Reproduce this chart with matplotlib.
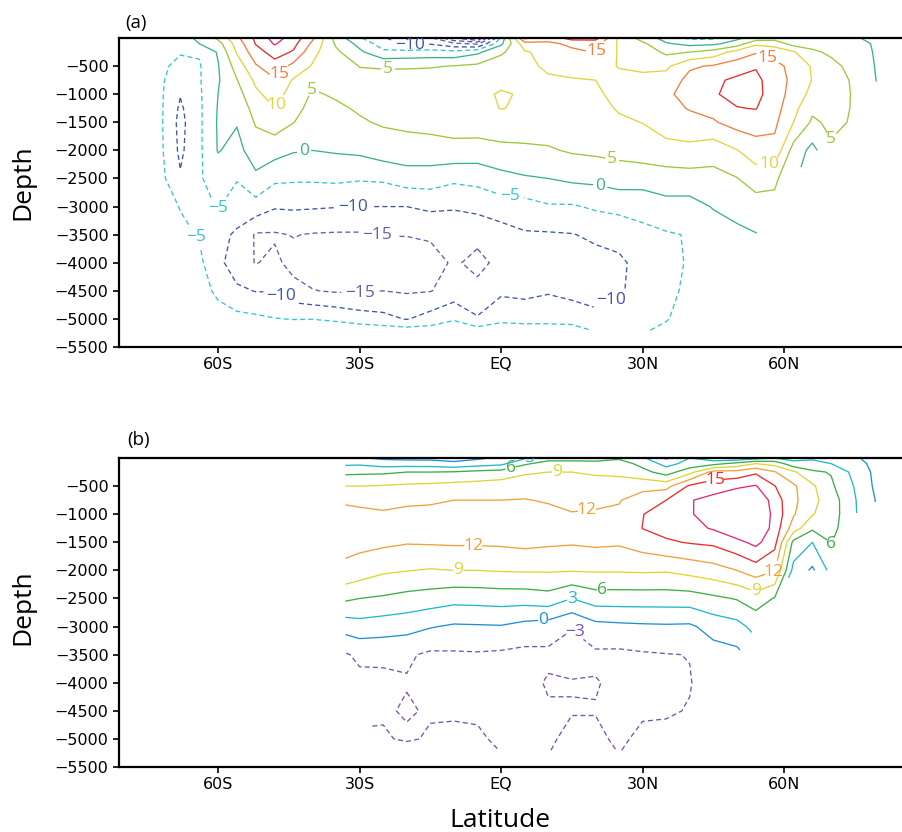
import numpy as np
import matplotlib
matplotlib.use("Agg")
import matplotlib.pyplot as plt

nan = np.nan

# ---------------- data ----------------
depths = [0, 100, 250, 500, 750, 1000, 1250, 1500, 2000, 2500, 3000, 3500, 4000, 4500, 5000, 5200]

# (a) global overturning streamfunction (Sv); one profile (top -> bottom) per latitude
lat_global = [-78, -72, -68, -64, -60, -56, -52, -48, -44, -40, -35, -30, -25, -20, -15, -10, -5,
              0, 5, 10, 15, 20, 25, 30, 35, 40, 45, 50, 54, 58, 62, 66, 70, 75, 80]
psi_global_cols = [
    [-1, -1.5, -2, -2.5, -3, -3, -3, -3, -3, -2.5, -2, -1.5, -1, -0.5, nan, nan],
    [-1.5, -2, -2.5, -4, -4.4, -4.5, -4.5, -4.5, -4.4, -3.8, -3, -2.5, -2, -1.5, nan, nan],
    [-2, -3, -4.6, -6.5, -8, -9.7, -10.8, -11.5, -11, -9.5, -5.2, -4, -3, -1, nan, nan],
    [1, 0, -4.5, -5.5, -5.5, -5.8, -6, -6, -6, -5.5, -6, -5.3, -4, -3, -2, nan],
    [6, 3, 0.5, -0.3, -0.5, 0, 0.3, 0.5, 0.3, -3, -4.8, -8, -8.5, -6, -3, -1],
    [14, 12, 10.5, 7, 4.8, 3, 1.5, 0.3, -1.5, -4.8, -6.5, -11, -13, -9, -3.5, -1],
    [21, 20.3, 18, 14.5, 11, 9, 7, 5.5, 2.5, -1, -7, -15.5, -15.2, -10.2, -4, -2],
    [27, 25.5, 22, 18, 14.5, 12, 10, 7.5, 2, -4, -9.5, -15.5, -14, -10.2, -4.8, -1],
    [23, 21.5, 19.5, 13.5, 9.5, 8, 6.5, 5.1, 0.4, -4.3, -9.3, -14.8, -16.5, -13.5, -5.2, -1.5],
    [16, 14, 11.5, 9.6, 6, 4.5, 3.6, 2.8, 0, -4.3, -9.5, -15.3, -17.5, -14.8, -5.1, -1.5],
    [3, 4.3, 6, 7, 7, 5.5, 4.3, 3.5, 0.5, -4, -9.8, -15.5, -17.5, -15.5, -6, -1.5],
    [-4.5, -1.5, 1, 4.9, 6, 6.3, 5.5, 4.5, 1, -4.5, -10, -15.5, -18, -15.6, -7.5, -2],
    [-9.5, -7.5, -4, 4.6, 6.5, 7, 6.5, 5.5, 2.6, -4.2, -10, -14.8, -18, -15, -8.5, -2.5],
    [-13, -11, -3.5, 4.5, 7, 7.5, 7, 6, 3, -2.5, -10, -14.8, -18, -15.5, -10.3, -3],
    [-14, -10.5, -3, 4.6, 7.5, 8, 7.5, 6.5, 3, -2.5, -9, -14.5, -16.5, -15.2, -8, -3],
    [-25, -14, -3.5, 5.2, 8, 8.5, 8, 7, 3.5, -4, -9.5, -13.5, -14.5, -13, -5.5, -2],
    [-31, -16, -1, 6, 8.5, 9.5, 9, 7.5, 3, -3.5, -8.5, -14, -16, -14, -9.5, -3],
    [-4, -1, 4, 8.5, 9.5, 10.2, 10.1, 8.5, 3.5, -1.5, -7.5, -12, -14, -11, -6, -3],
    [21, 13, 9.5, 9.3, 9.5, 9.8, 9.6, 8, 4, -0.5, -7, -10.5, -12.5, -11.5, -6.5, -3],
    [17, 14, 11.5, 10.5, 9.6, 9.3, 9, 7.5, 4.5, 0, -5.5, -10.5, -12, -10.5, -6.5, -3],
    [22, 16, 14, 11, 9.8, 9.3, 8.8, 8, 5.5, 1, -5.5, -10.2, -12, -11.5, -7, -3],
    [22, 16.5, 15.2, 11.5, 10, 9.3, 8.6, 7.8, 6, 1.3, -4.3, -9.2, -11.5, -11.5, -9, -5.5],
    [9, 9.3, 9.5, 9.8, 11, 11.2, 10.4, 9.3, 6.5, 2.3, -3.5, -8.5, -10.8, -10.5, -8, -5.5],
    [3, 6, 8, 9.6, 10.5, 11, 10.8, 10.1, 7.5, 2, -3, -6.5, -8.5, -8.5, -6.5, -5.5],
    [-2, 0.5, 4, 9, 12, 14, 13.5, 12, 8.5, 2.5, -1.5, -5.5, -6.5, -6.2, -5.3, -4],
    [-6, -1.5, 5, 14.3, 16.5, 17, 15.3, 13.5, 8.5, 3, -1.8, -4.7, -4.5, -4, -3, -2],
    [-6, -1, 7, 15.5, 19, 19.5, 16.5, 14.5, 7, 3.5, 0.3, -2.5, -3, -2.5, -2, -1.5],
    [-1, 2, 12, 17.5, 21, 21.5, 19.8, 17, 9.8, 4.8, 1.5, -1, -2, -1.5, nan, nan],
    [2, 9, 14.5, 19.5, 21.5, 21.5, 20.2, 17.5, 12.5, 7.5, 2.5, -0.2, nan, nan, nan, nan],
    [3, 8, 13, 16.5, 17, 17.5, 17, 16, 13.5, 6, 3.5, nan, nan, nan, nan, nan],
    [1, 3, 10.5, 13.5, 14, 13, 11.5, 10, 3, 1, nan, nan, nan, nan, nan, nan],
    [3, 4, 5.5, 9.5, 9.8, 8.5, 6, 4.2, -1.5, nan, nan, nan, nan, nan, nan, nan],
    [2, 3, 4.5, 5.8, 6.5, 6.8, 6.5, 6, 4.3, nan, nan, nan, nan, nan, nan, nan],
    [0.5, 2, 3, 4, 4.5, 4.6, 4.6, 4.5, 3.5, nan, nan, nan, nan, nan, nan, nan],
    [-1.5, -1, -1, -0.8, -0.5, nan, nan, nan, nan, nan, nan, nan, nan, nan, nan, nan],
]
levels_global = [-30, -25, -20, -15, -10, -5, 0, 5, 10, 15, 20, 25]
colors_global = ["#5b3d96", "#5f47a0", "#5a52a6", "#6b5ba8", "#3f56a6", "#35c4cf",
                 "#3bb38a", "#9cc83c", "#e2d43b", "#f47e3b", "#e82b2b", "#e0237c"]
# inline contour labels: (latitude, depth, level)
labels_global = [(-47.3, -620, 15), (-47.7, -1190, 10), (-39, -690, 5), (-42, -1870, 0),
                 (-24, -570, 5), (-19.3, -160, -10), (21.4, -270, 15), (57, -250, 15),
                 (23.7, -2080, 5), (21, -2650, 0), (57, -2380, 10), (72, -1950, 5),
                 (1.9, -2790, -5), (-62.3, -3420, -5), (-59.1, -3110, -5), (-31.4, -3000, -10),
                 (-26.3, -3540, -15), (-46.2, -4540, -10), (-29.9, -4430, -15), (24.6, -4890, -10)]

# (b) Atlantic overturning streamfunction (Sv)
lat_atl = [-33, -30, -25, -20, -15, -10, -5, 0, 5, 10, 15, 20, 25, 30, 35, 40, 45, 50, 54, 58,
           62, 66, 70, 75, 80]
psi_atl_cols = [
    [1.5, 2.4, 5.3, 9, 11.6, 12.8, 13, 12.8, 11.4, 6.5, 1.3, -3.3, -4, -3.5, nan, nan],
    [0.2, 2.5, 5.4, 9, 11.4, 12.6, 13, 12.8, 10.7, 6, 1.8, -2.4, -3.8, -3.6, nan, nan],
    [-0.5, 1.5, 5.5, 9.2, 11.2, 12.3, 12.8, 12.6, 9.5, 5.6, 1.4, -2.3, -3.8, -3.5, -2.5, nan],
    [-0.8, 1.5, 6, 9.5, 11.6, 12.5, 13, 12.2, 9.1, 5, 1.1, -2.6, -3.2, -2.6, -3.6, -1],
    [-0.8, 1.4, 6, 9.7, 11.7, 12.6, 13, 12.3, 8.8, 4.6, 0.2, -3.5, -3.8, -3.4, -2.5, -1],
    [-1, 0.6, 6.2, 10, 12, 12.8, 13.1, 12.4, 9, 4, -0.4, -3.4, -3.8, -3.4, -2.3, -1],
    [-0.5, 1.5, 6.8, 10.2, 12, 13, 13.3, 12.4, 9, 4.1, -0.3, -3.3, -3.6, -3.4, -2.6, -1],
    [0.5, 2.2, 7.2, 10.5, 12, 13, 13.3, 12.5, 9.2, 4.3, -0.2, -3.5, -3.8, -3.8, -3.5, -3.2],
    [2.5, 5.6, 8.4, 11.5, 12.05, 13, 13.2, 12.8, 9.3, 4.3, -1, -3.8, -4, -3.8, -3.4, -3.2],
    [5, 7, 9, 11, 11.9, 12.3, 12.8, 12.5, 9.3, 4.8, -1.5, -3.6, -2.7, -3.3, -3.3, -3.2],
    [5, 7, 9, 10.7, 11.5, 12.1, 12.6, 12.3, 9.2, 3, -2.9, -3.7, -2.9, -3.1, -2.5, -1.5],
    [5, 6.8, 8.5, 10.6, 11.6, 12.2, 12.5, 12.6, 9.3, 4.5, -1, -3.5, -2.85, -3.1, -2.5, -1.5],
    [5.5, 7.5, 8.3, 10.5, 11.8, 12.5, 12.6, 12.4, 9.3, 4.5, -0.7, -3.6, -3.5, -3.6, -3.4, -3.2],
    [3.5, 5, 7, 11, 13.5, 14.9, 15.05, 13.5, 9.4, 4.5, -0.5, -3.3, -3.5, -3.3, -2.5, -1.5],
    [-0.5, 2, 4.6, 11, 15, 16.5, 16, 14.6, 9.3, 4.5, -0.4, -3.1, -3.3, -3.2, -2.5, -1],
    [3, 4, 8, 15.5, 17.8, 17.7, 17, 15.2, 10, 4.6, -0.5, -2.95, -3.1, -2.9, -2, -1],
    [1, 5, 13, 16.5, 19, 19.5, 18.3, 15.6, 10.8, 5.4, 1.2, -1.3, -2, -2, -1.2, -0.8],
    [0.5, 7, 13, 17.5, 20.5, 21, 20.3, 17.2, 12, 6.2, 2, -0.8, -1.5, -1, nan, nan],
    [2, 9, 14.5, 18.2, 21, 21.5, 21, 18.8, 13.5, 7.5, 4, nan, nan, nan, nan, nan],
    [3, 8, 12.2, 15.1, 16.5, 17, 16.8, 16, 12.2, 5.8, nan, nan, nan, nan, nan, nan],
    [2, 4, 9.5, 12.5, 12.7, 12.3, 10.5, 5.2, 2, nan, nan, nan, nan, nan, nan, nan],
    [2.5, 4, 6.5, 9.5, 9.8, 9.2, 6.5, 3, -0.5, nan, nan, nan, nan, nan, nan, nan],
    [1.5, 3, 5.8, 6.5, 7.5, 7.5, 7, 6.1, 4, nan, nan, nan, nan, nan, nan, nan],
    [0.3, 1, 2, 2.8, 3.2, 3.3, 3.4, 3.5, 3.3, nan, nan, nan, nan, nan, nan, nan],
    [-1, -1, -1, -1, -0.5, nan, nan, nan, nan, nan, nan, nan, nan, nan, nan, nan],
]
levels_atl = [-3, 0, 3, 6, 9, 12, 15, 18]
colors_atl = ["#7b52ae", "#1f8fd6", "#22b8c9", "#3bae49", "#dcd537", "#eea23a", "#ee2b2b", "#e3277a"]
labels_atl = [(2.0, -170, 6), (9.0, -20, 3), (11.9, -270, 9), (18.2, -960, 12), (-5.9, -1510, 12),
              (-9.1, -1940, 9), (15.3, -2370, 3), (21.4, -2390, 6), (8.9, -2850, 0),
              (16.1, -3010, -3), (45.4, -480, 15), (58, -2100, 12), (54, -2450, 9),
              (71.9, -1760, 6)]

xtick_pos = [-60, -30, 0, 30, 60]
xtick_labels = ["60S", "30S", "EQ", "30N", "60N"]
ytick_pos = list(range(-5500, 0, 500))

# ---------------- drawing ----------------
plt.rcParams["lines.dashed_pattern"] = [3.8, 2.4]

fig = plt.figure(figsize=(9.02, 8.32), dpi=100)
axa = fig.add_axes([0.1319, 0.5829, 0.8681, 0.3714])
axb = fig.add_axes([0.1319, 0.0781, 0.8681, 0.3714])


def fmt(v):
    return f"{int(round(v))}".replace("-", "\u2212")


def draw(ax, lats, cols, levels, colors, labels):
    z = np.ma.masked_invalid(np.array(cols, dtype=float).T)
    x, y = np.meshgrid(np.array(lats, float), -np.array(depths, float))
    for lv, col in zip(levels, colors):
        cs = ax.contour(x, y, z, levels=[lv], colors=[col], linewidths=0.95,
                        linestyles=["dashed" if lv < 0 else "solid"])
        pts = [(lx, ly) for (lx, ly, ll) in labels if ll == lv]
        if pts:
            txts = ax.clabel(cs, manual=pts, fmt=fmt, fontsize=12.5,
                             inline=True, inline_spacing=2)
            for t in txts:
                t.set_rotation(0)
                t.set_family("Open Sans")
    ax.set_xlim(-81, 85)
    ax.set_ylim(-5500, 0)
    ax.set_xticks(xtick_pos)
    ax.set_xticklabels(xtick_labels)
    ax.set_yticks(ytick_pos)
    ax.set_yticklabels([f"{v}".replace("-", "\u2212") for v in ytick_pos])
    ax.tick_params(direction="out", length=4.5, width=1.2, pad=3, labelsize=11.5)
    for s in ["left", "bottom", "top"]:
        ax.spines[s].set_linewidth(1.6)
    ax.spines["right"].set_visible(False)


draw(axa, lat_global, psi_global_cols, levels_global, colors_global, labels_global)
draw(axb, lat_atl, psi_atl_cols, levels_atl, colors_atl, labels_atl)

fig.text(0.1386, 0.9663, "(a)", fontsize=13.5, family="Open Sans", va="baseline")
fig.text(0.1415, 0.4651, "(b)", fontsize=13.5, family="Open Sans", va="baseline")
fig.text(0.0255, 0.781, "Depth", fontsize=19, family="Open Sans", rotation=90, ha="center", va="center")
fig.text(0.0255, 0.270, "Depth", fontsize=19, family="Open Sans", rotation=90, ha="center", va="center")
fig.text(0.5543, 0.006, "Latitude", fontsize=19, family="Open Sans", ha="center", va="baseline")

fig.savefig("out.png", dpi=100)
